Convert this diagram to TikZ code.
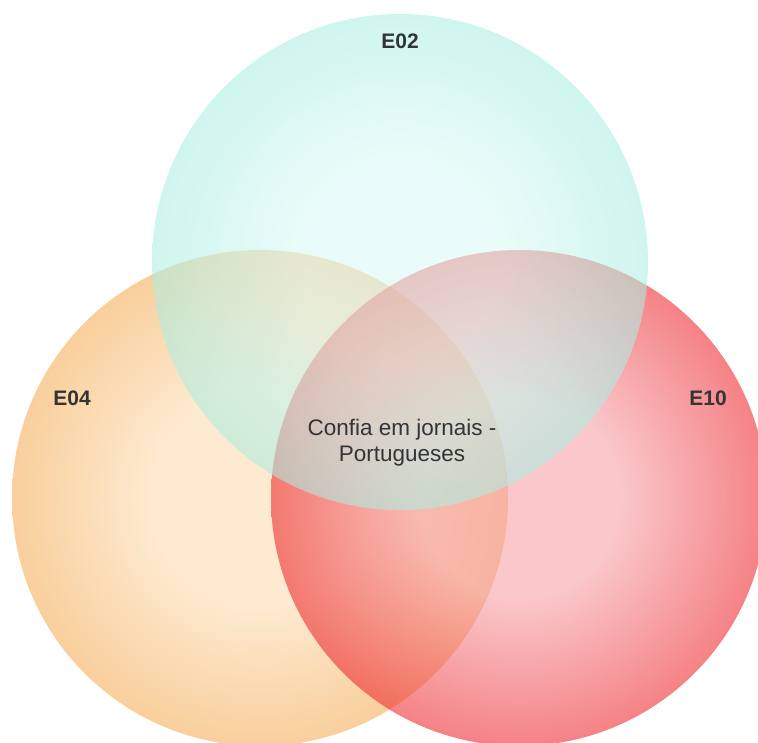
\documentclass[tikz,border=0pt]{standalone}
\usepackage{fontspec}
\setmainfont{Liberation Sans}
\usetikzlibrary{positioning}

\definecolor{tealrim}{RGB}{173,238,227}
\definecolor{tealcore}{RGB}{218,250,244}
\definecolor{peachrim}{RGB}{249,207,156}
\definecolor{peachcore}{RGB}{253,234,208}
\definecolor{roserim}{RGB}{237,40,45}
\definecolor{rosecore}{RGB}{247,160,166}
\definecolor{labelgray}{RGB}{52,52,54}

% soft discs, light in the middle (25bp = rim of the path)
\pgfdeclareradialshading{tealdisc}{\pgfpoint{0bp}{0bp}}%
  {color(0bp)=(tealcore); color(10bp)=(tealcore); color(25bp)=(tealrim); color(50bp)=(tealrim)}
\pgfdeclareradialshading{peachdisc}{\pgfpoint{0bp}{0bp}}%
  {color(0bp)=(peachcore); color(11bp)=(peachcore); color(25bp)=(peachrim); color(50bp)=(peachrim)}
\pgfdeclareradialshading{rosedisc}{\pgfpoint{0bp}{0bp}}%
  {color(0bp)=(rosecore); color(10bp)=(rosecore); color(25bp)=(roserim); color(50bp)=(roserim)}

\tikzset{every node/.append style={transform shape=false}}
\tikzset{setname/.style={font=\fontsize{21}{26}\selectfont\bfseries,text=labelgray}}
\tikzset{overlap/.style={font=\fontsize{22.5}{26}\selectfont,text=labelgray,align=center}}

\begin{document}
\begin{tikzpicture}[x=1pt,y=-1pt]
  \useasboundingbox (0,0) rectangle (758,742);
  \coordinate (c04) at (260,498);
  \coordinate (c10) at (519,498);
  \coordinate (c02) at (400,262);
  \shade[shading=peachdisc] (c04) circle (248);
  \shade[shading=rosedisc, fill opacity=.58] (c10) circle (248);
  \shade[shading=tealdisc, fill opacity=.58] (c02) circle (248);
  \node[setname] (e02) at (400,41) {E02};
  \node[setname] (e04) at (72,398) {E04};
  \node[setname] (e10) at (708,398) {E10};
  \node[overlap] (middle) at (402,443) {Confia em jornais -\\Portugueses};
\end{tikzpicture}
\end{document}
